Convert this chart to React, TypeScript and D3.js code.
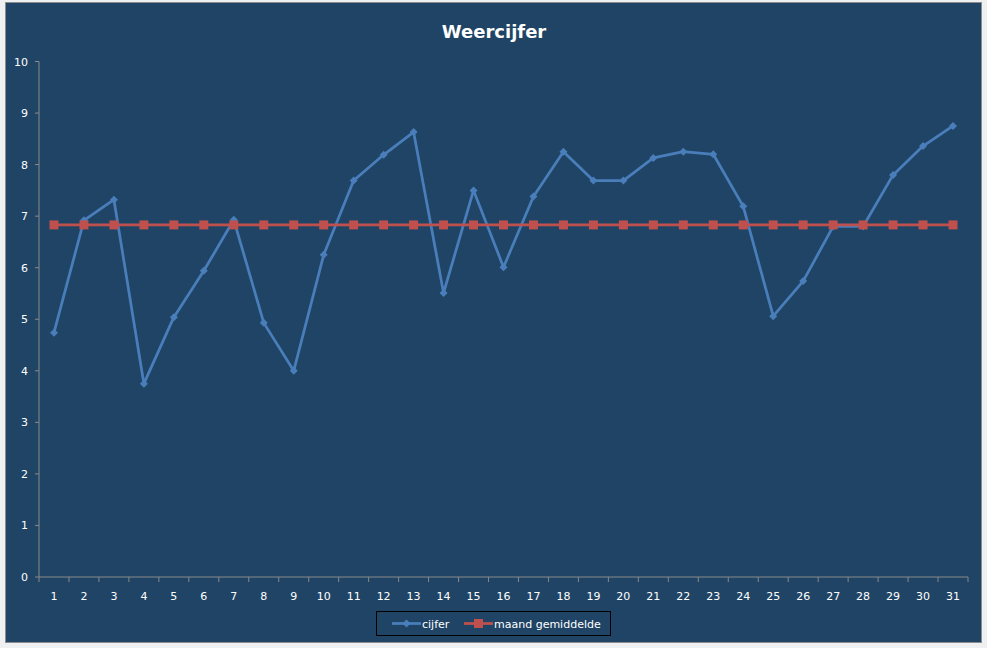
import * as d3 from 'd3';

// dagen van de maand
const days = d3.range(1, 32).map(String);

const cijfer = [
  4.74, 6.92, 7.32, 3.75, 5.04, 5.94, 6.93, 4.93, 4.0, 6.25,
  7.69, 8.19, 8.63, 5.51, 7.5, 6.01, 7.38, 8.25, 7.69, 7.69,
  8.13, 8.25, 8.2, 7.19, 5.06, 5.74, 6.8, 6.8, 7.8, 8.36, 8.75,
];

// maandgemiddelde
const gemiddelde = [
  6.83, 6.83, 6.83, 6.83, 6.83, 6.83, 6.83, 6.83, 6.83, 6.83,
  6.83, 6.83, 6.83, 6.83, 6.83, 6.83, 6.83, 6.83, 6.83, 6.83,
  6.83, 6.83, 6.83, 6.83, 6.83, 6.83, 6.83, 6.83, 6.83, 6.83, 6.83,
];

const yTicks = [0, 1, 2, 3, 4, 5, 6, 7, 8, 9, 10];

const W = 987;
const H = 648;
const plot = { left: 39, right: 968, top: 61.5, bottom: 577 };
const font = 'DejaVu Sans, Verdana, sans-serif';

export default function App() {
  const x = d3.scaleBand<string>().domain(days).range([plot.left, plot.right]);
  const y = d3.scaleLinear().domain([0, 10]).range([plot.bottom, plot.top]);
  const cx = (i: number) => (x(days[i]) ?? 0) + x.bandwidth() / 2;

  const line = d3.line<number>().x((_, i) => cx(i)).y(d => y(d));
  // vierkant 45 graden gedraaid, zoals de Excel-ruit
  const diamond = d3.symbol().type(d3.symbolSquare).size(32)();

  const tickXs = days.map(d => x(d) ?? 0).concat([plot.right]);

  return (
    <div style={{ position: 'absolute', left: 0, top: 0 }}>
      <svg width={W} height={H} style={{ display: 'block' }}>
        <rect x={0} y={0} width={W} height={H} fill="#eef0f2" />
        <rect x={5.5} y={2.5} width={976} height={640} fill="#1f4465" stroke="#8c8c8c" strokeWidth={1} />

        <text x={494} y={38} textAnchor="middle" fill="#ffffff" fontFamily={font} fontWeight="bold" fontSize={18}>
          Weercijfer
        </text>

        {/* y-as */}
        <line x1={plot.left} x2={plot.left} y1={plot.top} y2={plot.bottom} stroke="#8a8a8a" />
        {yTicks.map(t => (
          <g key={t}>
            <line x1={plot.left - 4} x2={plot.left} y1={y(t)} y2={y(t)} stroke="#8a8a8a" />
            <text x={28} y={y(t) + 4} textAnchor="end" fill="#ffffff" fontFamily={font} fontSize={11}>
              {t}
            </text>
          </g>
        ))}

        {/* x-as */}
        <line x1={plot.left} x2={plot.right} y1={plot.bottom} y2={plot.bottom} stroke="#8a8a8a" />
        {tickXs.map((tx, i) => (
          <line key={i} x1={tx} x2={tx} y1={plot.bottom} y2={plot.bottom + 5} stroke="#8a8a8a" />
        ))}
        {days.map((d, i) => (
          <text key={d} x={cx(i)} y={600} textAnchor="middle" fill="#ffffff" fontFamily={font} fontSize={11}>
            {d}
          </text>
        ))}

        {/* cijfer */}
        <path d={line(cijfer) ?? ''} fill="none" stroke="#4a7ebb" strokeWidth={2.75} strokeLinejoin="round" />
        {cijfer.map((v, i) => (
          <path key={i} d={diamond ?? ''} transform={`translate(${cx(i)},${y(v)}) rotate(45)`} fill="#4a7ebb" />
        ))}

        {/* maand gemiddelde */}
        <path d={line(gemiddelde) ?? ''} fill="none" stroke="#c0504d" strokeWidth={2.75} />
        {gemiddelde.map((v, i) => (
          <rect key={i} x={cx(i) - 4.5} y={y(v) - 4.5} width={9} height={9} fill="#c0504d" />
        ))}

        {/* legenda */}
        <rect x={376.5} y={611.5} width={234} height={24} fill="none" stroke="#000000" strokeWidth={1} />
        <line x1={392} x2={421} y1={623.5} y2={623.5} stroke="#4a7ebb" strokeWidth={2.75} />
        <path d={diamond ?? ''} transform="translate(406.5,623.5) rotate(45)" fill="#4a7ebb" />
        <text x={422} y={627.5} fill="#ffffff" fontFamily={font} fontSize={11}>cijfer</text>
        <line x1={464} x2={493} y1={623.5} y2={623.5} stroke="#c0504d" strokeWidth={2.75} />
        <rect x={474} y={619} width={9} height={9} fill="#c0504d" />
        <text x={494} y={627.5} fill="#ffffff" fontFamily={font} fontSize={11}>maand gemiddelde</text>
      </svg>
    </div>
  );
}
